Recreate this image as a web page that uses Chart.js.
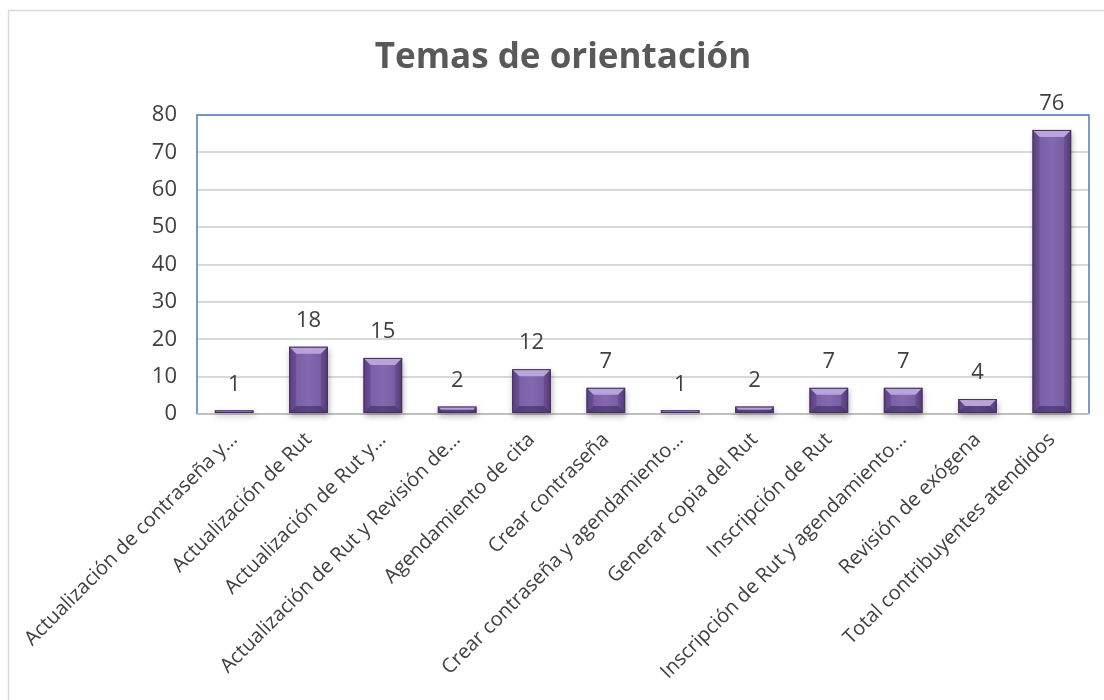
<!DOCTYPE html>
<html>
<head>
<meta charset="utf-8">
<script src="https://cdn.jsdelivr.net/npm/chart.js@4"></script>
<style>
  html, body { margin: 0; padding: 0; background: #fff; }
  #wrap { width: 1104px; height: 700px; }
</style>
</head>
<body>
<div id="wrap"><canvas id="barChart" width="1104" height="700"></canvas></div>
<script>
const categories = [
  'Actualización de contraseña y…',
  'Actualización de Rut',
  'Actualización de Rut y…',
  'Actualización de Rut y Revisión de…',
  'Agendamiento de cita',
  'Crear contraseña',
  'Crear contraseña y agendamiento…',
  'Generar copia del Rut',
  'Inscripción de Rut',
  'Inscripción de Rut y agendamiento…',
  'Revisión de exógena',
  'Total contribuyentes atendidos'
];
const counts = [1, 18, 15, 2, 12, 7, 1, 2, 7, 7, 4, 76];
const yTicks = [0, 10, 20, 30, 40, 50, 60, 70, 80];

const textColor = '#404040';

// frame + outer border
const framePlugin = {
  id: 'frame',
  beforeDraw(chart) {
    const c = chart.ctx;
    c.save();
    c.strokeStyle = '#d9d9d9';
    c.lineWidth = 1.5;
    c.strokeRect(8.5, 10.5, 1120, 720);
    c.restore();
  },
  beforeDatasetsDraw(chart) {
    const a = chart.chartArea;
    const c = chart.ctx;
    c.save();
    c.strokeStyle = '#4a7ebb';
    c.lineWidth = 1.5;
    c.beginPath();
    c.moveTo(a.left, a.bottom);
    c.lineTo(a.left, a.top);
    c.lineTo(a.right, a.top);
    c.lineTo(a.right, a.bottom);
    c.stroke();
    c.strokeStyle = '#bfbfbf';
    c.lineWidth = 2;
    c.beginPath();
    c.moveTo(a.left, a.bottom);
    c.lineTo(a.right, a.bottom);
    c.stroke();
    c.restore();
  }
};

// bevelled purple bars + value labels
const barLook = {
  id: 'barLook',
  afterDatasetsDraw(chart) {
    const c = chart.ctx;
    const meta = chart.getDatasetMeta(0);
    meta.data.forEach((bar, i) => {
      const p = bar.getProps(['x', 'y', 'base', 'width'], true);
      const l = p.x - p.width / 2, r = p.x + p.width / 2;
      const t = p.y, b = p.base;
      const h = b - t;
      c.save();
      c.shadowColor = 'rgba(0,0,0,0.3)';
      c.shadowBlur = 6;
      c.shadowOffsetX = 1;
      c.shadowOffsetY = 3;
      const g = c.createLinearGradient(l, 0, r, 0);
      g.addColorStop(0, '#644a8e');
      g.addColorStop(0.15, '#7a5ea6');
      g.addColorStop(0.5, '#8569af');
      g.addColorStop(0.85, '#785ca3');
      g.addColorStop(1, '#5a4283');
      c.fillStyle = g;
      c.fillRect(l, t, p.width, h);
      c.restore();
      const bv = Math.min(7, h / 2);
      c.save();
      // top bevel
      c.fillStyle = '#b8a4d8';
      c.beginPath();
      c.moveTo(l, t);
      c.lineTo(r, t);
      c.lineTo(r - bv, t + bv);
      c.lineTo(l + bv, t + bv);
      c.closePath();
      c.fill();
      // side bevels
      c.fillStyle = 'rgba(50,30,80,0.25)';
      c.beginPath();
      c.moveTo(l, t);
      c.lineTo(l + bv, t + bv);
      c.lineTo(l + bv, b - bv);
      c.lineTo(l, b);
      c.closePath();
      c.fill();
      c.beginPath();
      c.moveTo(r, t);
      c.lineTo(r - bv, t + bv);
      c.lineTo(r - bv, b - bv);
      c.lineTo(r, b);
      c.closePath();
      c.fill();
      // bottom bevel
      c.fillStyle = 'rgba(40,25,70,0.45)';
      c.beginPath();
      c.moveTo(l, b);
      c.lineTo(l + bv, b - bv);
      c.lineTo(r - bv, b - bv);
      c.lineTo(r, b);
      c.closePath();
      c.fill();
      c.strokeStyle = '#44305f';
      c.lineWidth = 1;
      c.strokeRect(l + 0.5, t + 0.5, p.width - 1, h - 1);
      c.restore();
      // value label
      c.save();
      c.fillStyle = textColor;
      c.font = '22px "Open Sans"';
      c.textAlign = 'center';
      c.textBaseline = 'middle';
      c.fillText(String(counts[i]), p.x, t - 26);
      c.restore();
    });
  }
};

const ctx = document.getElementById('barChart').getContext('2d');
const chart = new Chart(ctx, {
  type: 'bar',
  data: {
    labels: categories,
    datasets: [{
      label: 'Temas de orientación',
      data: counts,
      backgroundColor: 'rgba(0,0,0,0)',
      borderWidth: 0,
      categoryPercentage: 0.52,
      barPercentage: 1
    }]
  },
  options: {
    responsive: false,
    animation: false,
    layout: { padding: { top: 10, left: 37, right: 15, bottom: 10 } },
    plugins: {
      legend: { display: false },
      tooltip: { enabled: false },
      title: {
        display: true,
        text: 'Temas de orientación',
        color: '#595959',
        font: { family: 'Open Sans', size: 35, weight: 'bold' },
        padding: { top: 27, bottom: 36 }
      }
    },
    scales: {
      x: {
        grid: { display: false },
        border: { display: false },
        ticks: {
          autoSkip: false,
          maxRotation: 45,
          minRotation: 45,
          padding: 6,
          color: textColor,
          font: { family: 'Open Sans', size: 20 }
        },
        afterFit(s) { s.height = 276; }
      },
      y: {
        min: 0,
        max: 80,
        afterBuildTicks(s) { s.ticks = yTicks.map(v => ({ value: v })); },
        grid: { color: '#d9d9d9', lineWidth: 2, drawTicks: false },
        border: { display: false },
        ticks: {
          padding: 20,
          color: textColor,
          font: { family: 'Open Sans', size: 22 }
        },
        afterFit(s) { s.width = 160; }
      }
    }
  },
  plugins: [framePlugin, barLook]
});
</script>
</body>
</html>
